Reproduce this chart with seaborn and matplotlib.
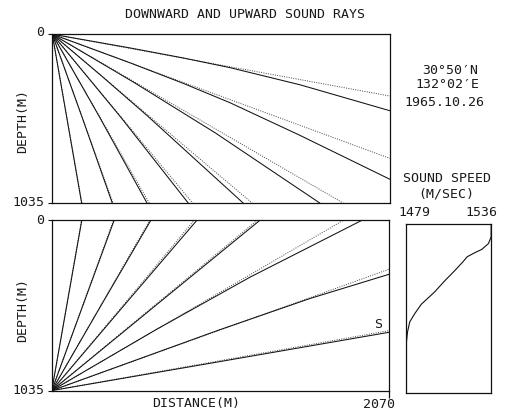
import pandas as pd
import matplotlib.pyplot as plt
import seaborn as sns
import numpy as np

sns.set_style("white")
plt.rcParams['font.family'] = ['DejaVu Sans Mono', 'DejaVu Sans']
plt.rcParams['axes.unicode_minus'] = False

# ---- data (distance m, depth m) ----
# downward rays from the source at the surface (solid = traced, dotted = straight)
down_solid = {
    '10': ([0, 476, 800, 1090, 1519, 2070], [0, 84, 145, 205, 310, 469]),
    '20': ([0, 476, 800, 1090, 1519, 2070], [0, 175, 300, 420, 620, 889]),
    '30': ([0, 500, 1000, 1641], [0, 295, 605, 1035]),
    '40': ([0, 300, 585, 1171], [0, 254, 502, 1035]),
    '50': ([0, 417, 834], [0, 505, 1035]),
    '60': ([0, 290, 581], [0, 508, 1035]),
    '70': ([0, 184, 368], [0, 512, 1035]),
    '80': ([0, 180], [0, 1035]),
}
down_dotted_x = [2070, 2070, 1784, 1226, 861, 595, 373, 182]
down_dotted_y = [379, 761, 1035, 1035, 1035, 1035, 1035, 1035]

# upward rays from the source at the bottom
up_solid = {
    '10': ([0, 1035, 2070], [1035, 858, 680]),
    '20': ([0, 1021, 1583, 2070], [1035, 668, 475, 327]),
    '30': ([0, 633, 1216, 1900], [1035, 668, 345, 0]),
    '40': ([0, 640, 1275], [1035, 515, 0]),
    '50': ([0, 445, 889], [1035, 515, 0]),
    '60': ([0, 303, 607], [1035, 516, 0]),
    '70': ([0, 191, 382], [1035, 517, 0]),
    '80': ([0, 184], [1035, 0]),
}
up_dotted_x = [2070, 2070, 1786, 1258, 872, 600, 378, 182]
up_dotted_y = [670, 296, 0, 0, 0, 0, 0, 0]

# sound speed profile
ss_depth = [0, 78, 119, 155, 176, 200, 231, 286, 348, 415, 491, 548, 599, 661, 722, 1035]
ss_speed = [1536, 1536, 1534.2, 1529.7, 1524.8, 1519.9, 1517.0, 1511.4, 1504.7,
            1498.0, 1489.0, 1484.6, 1481.2, 1479.7, 1479.0, 1479.0]

max_dist = 2070
max_depth = 1035


def rays_frame(rays):
    rows = []
    for name, (xs, ys) in rays.items():
        for x, y in zip(xs, ys):
            rows.append({'ray': name, 'dist': x, 'depth': y})
    return pd.DataFrame(rows)


def straight_frame(x0, y0, xs, ys):
    rows = []
    for i, (x, y) in enumerate(zip(xs, ys)):
        rows.append({'ray': i, 'dist': x0, 'depth': y0})
        rows.append({'ray': i, 'dist': x, 'depth': y})
    return pd.DataFrame(rows)


fig = plt.figure(figsize=(5.1, 4.12), dpi=100)
ax_top = fig.add_axes([0.1025, 0.507, 0.662, 0.410])
ax_bot = fig.add_axes([0.1015, 0.052, 0.662, 0.413])
ax_ss = fig.add_axes([0.797, 0.046, 0.166, 0.410])

line_kw = dict(color='#111111', linewidth=0.75)
dot_kw = dict(color='#444444', linewidth=0.7, linestyle=(0, (1, 1.4)))

for ax, solid, x0, y0, dx, dy in [
        (ax_top, down_solid, 0, 0, down_dotted_x, down_dotted_y),
        (ax_bot, up_solid, 0, max_depth, up_dotted_x, up_dotted_y)]:
    sns.lineplot(data=straight_frame(x0, y0, dx, dy), x='dist', y='depth', units='ray',
                 estimator=None, sort=False, ax=ax, **dot_kw)
    sns.lineplot(data=rays_frame(solid), x='dist', y='depth', units='ray',
                 estimator=None, sort=False, ax=ax, **line_kw)
    ax.set_xlim(0, max_dist)
    ax.set_ylim(max_depth, 0)
    ax.set_xlabel('')
    ax.set_ylabel('')
    ax.set_yticks([0, max_depth])
    ax.set_yticklabels(['', ''])
    ax.set_xticks([])
    ax.tick_params(axis='y', length=3, width=0.8, direction='out', left=True,
                   color='#111111')

ax_bot.set_xticks([max_dist])
ax_bot.set_xticklabels([''])
ax_bot.tick_params(axis='x', length=5, width=0.9, direction='out', bottom=True,
                   color='#111111')

sns.lineplot(x=ss_speed, y=ss_depth, sort=False, estimator=None, ax=ax_ss,
             orient='y', color='#111111', linewidth=0.8)
ax_ss.set_xlim(1479, 1536)
ax_ss.set_ylim(max_depth, 0)
ax_ss.set_xticks([])
ax_ss.set_yticks([])
ax_ss.set_xlabel('')
ax_ss.set_ylabel('')

for ax in [ax_top, ax_bot, ax_ss]:
    for sp in ax.spines.values():
        sp.set_visible(True)
        sp.set_color('#111111')
        sp.set_linewidth(0.9)


def px_text(x, y, s, **kw):
    kw.setdefault('fontsize', 9.5)
    kw.setdefault('ha', 'center')
    kw.setdefault('va', 'center')
    fig.text(x / 510, 1 - y / 412, s, color='#1a1a1a', **kw)


px_text(245, 15, 'DOWNWARD AND UPWARD SOUND RAYS')
px_text(44, 33, '0', ha='right')
px_text(44, 203, '1035', ha='right')
px_text(23, 121, 'DEPTH(M)', rotation=90)
px_text(44, 220, '0', ha='right')
px_text(44, 390, '1035', ha='right')
px_text(23, 310, 'DEPTH(M)', rotation=90)
px_text(196, 403, 'DISTANCE(M)')
px_text(379, 404, '2070')
px_text(450, 70, '30°50′N')
px_text(447, 85, '132°02′E')
px_text(444, 102, '1965.10.26')
px_text(447, 178, 'SOUND SPEED')
px_text(446, 194, '(M/SEC)')
px_text(414, 212, '1479')
px_text(481, 212, '1536')
px_text(378, 325, 'S')

fig.savefig('out.png', dpi=100)
